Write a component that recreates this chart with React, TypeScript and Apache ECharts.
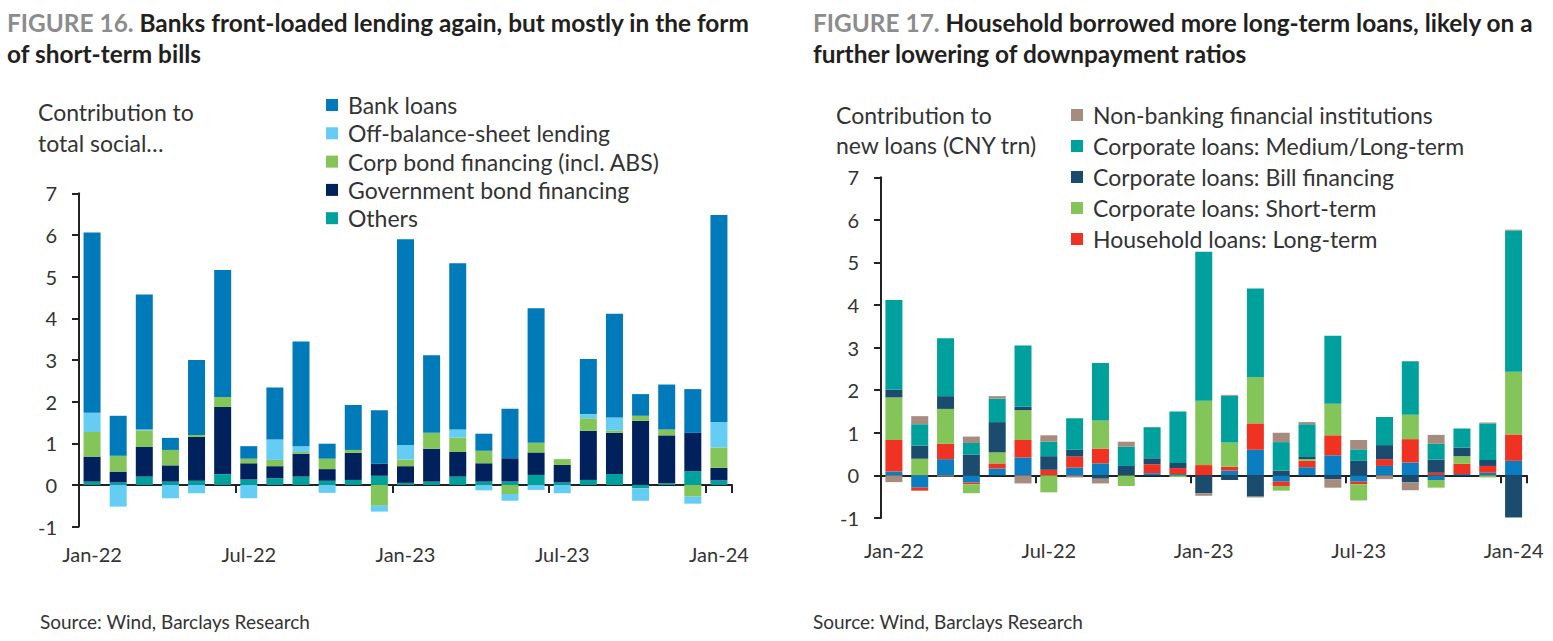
import React, { useEffect, useRef } from "react";
import * as echarts from "echarts";

const FONT = "Lato";

const months = [
  "Jan-22", "Feb-22", "Mar-22", "Apr-22", "May-22", "Jun-22", "Jul-22", "Aug-22", "Sep-22", "Oct-22", "Nov-22", "Dec-22",
  "Jan-23", "Feb-23", "Mar-23", "Apr-23", "May-23", "Jun-23", "Jul-23", "Aug-23", "Sep-23", "Oct-23", "Nov-23", "Dec-23",
  "Jan-24",
];
const yTicks = [-1, 0, 1, 2, 3, 4, 5, 6, 7];

// Figure 16 (CNY trn)
const tsfOthers = [0.08, 0.06, 0.2, 0.08, 0.1, 0.26, 0.13, 0.16, 0.2, 0.1, 0.12, 0.22, 0.05, 0.08, 0.2, 0.08, 0.08, 0.24, 0.06, 0.12, 0.26, -0.08, 0.04, 0.33, 0.11];
const tsfGov = [0.6, 0.26, 0.71, 0.39, 1.05, 1.61, 0.39, 0.29, 0.55, 0.28, 0.65, 0.29, 0.4, 0.79, 0.59, 0.44, 0.56, 0.54, 0.42, 1.18, 0.99, 1.54, 1.15, 0.92, 0.3];
const tsfCorp = [0.59, 0.38, 0.4, 0.37, 0.05, 0.24, 0.11, 0.15, 0.04, 0.25, 0.07, -0.5, 0.16, 0.38, 0.35, 0.3, -0.22, 0.23, 0.14, 0.3, 0.06, 0.12, 0.14, -0.28, 0.49];
const tsfObs = [0.46, -0.52, 0.02, -0.32, -0.2, 0, -0.32, 0.49, 0.14, -0.19, 0, -0.14, 0.35, 0, 0.19, -0.13, -0.16, -0.12, -0.2, 0.1, 0.31, -0.3, 0, -0.17, 0.61];
const tsfBank = [4.33, 0.96, 3.24, 0.29, 1.8, 3.05, 0.3, 1.25, 2.51, 0.36, 1.08, 1.28, 4.94, 1.86, 3.99, 0.41, 1.19, 3.23, 0, 1.32, 2.49, 0.52, 1.08, 1.05, 4.97];

// Figure 17 (CNY trn)
const hhShort = [0.09, -0.29, 0.38, -0.17, 0.16, 0.42, 0, 0.18, 0.28, 0, 0.05, 0.03, 0, 0.11, 0.6, -0.15, 0.19, 0.47, -0.15, 0.22, 0.3, -0.11, 0.03, 0.06, 0.34];
const hhLong = [0.74, -0.07, 0.36, -0.04, 0.12, 0.41, 0.13, 0.26, 0.35, 0, 0.21, 0.14, 0.24, 0.09, 0.62, -0.1, 0.15, 0.47, -0.06, 0.16, 0.55, 0.06, 0.24, 0.16, 0.62];
const corpShort = [1.0, 0.39, 0.82, -0.21, 0.26, 0.7, -0.4, 0, 0.66, -0.25, 0, -0.04, 1.51, 0.57, 1.09, -0.11, 0.04, 0.74, -0.38, 0, 0.57, -0.18, 0.18, -0.05, 1.47];
const corpBill = [0.18, 0.31, 0.3, 0.49, 0.71, 0.08, 0.32, 0.16, -0.08, 0.22, 0.14, 0.12, -0.42, -0.11, -0.5, 0.11, 0.05, -0.09, 0.34, 0.33, -0.16, 0.31, 0.2, 0.14, -0.99];
const corpMLT = [2.11, 0.5, 1.36, 0.27, 0.55, 1.44, 0.34, 0.74, 1.35, 0.45, 0.73, 1.21, 3.5, 1.1, 2.08, 0.67, 0.77, 1.6, 0.27, 0.66, 1.26, 0.37, 0.45, 0.86, 3.32];
const nbfi = [-0.16, 0.19, -0.03, 0.15, 0.06, -0.19, 0.15, -0.05, -0.11, 0.12, 0, 0, -0.06, 0.02, -0.02, 0.22, 0.05, -0.2, 0.22, -0.09, -0.19, 0.21, 0, 0.02, 0.02];

const leftSeries = [
  { name: "Others", data: tsfOthers, color: "#00a09d" },
  { name: "Government bond financing", data: tsfGov, color: "#00215c" },
  { name: "Corp bond financing (incl. ABS)", data: tsfCorp, color: "#84c55a" },
  { name: "Off-balance-sheet lending", data: tsfObs, color: "#65cdf4" },
  { name: "Bank loans", data: tsfBank, color: "#007ab8" },
];
const leftLegend = ["Bank loans", "Off-balance-sheet lending", "Corp bond financing (incl. ABS)", "Government bond financing", "Others"];

const rightSeries = [
  { name: "Household loans: Short-term", data: hhShort, color: "#0b7dc1" },
  { name: "Household loans: Long-term", data: hhLong, color: "#f03223" },
  { name: "Corporate loans: Short-term", data: corpShort, color: "#84c55a" },
  { name: "Corporate loans: Bill financing", data: corpBill, color: "#1b4c6d" },
  { name: "Corporate loans: Medium/Long-term", data: corpMLT, color: "#00a09d" },
  { name: "Non-banking financial institutions", data: nbfi, color: "#a58c7f" },
];
const rightLegend = [
  "Non-banking financial institutions",
  "Corporate loans: Medium/Long-term",
  "Corporate loans: Bill financing",
  "Corporate loans: Short-term",
  "Household loans: Long-term",
];

const INK = "#222";
const TXT = "#333";

function makeAxes(gi: number, labelMargin: number, yMargin: number) {
  const xA = {
    type: "category",
    gridIndex: gi,
    data: months,
    axisLine: { onZero: true, lineStyle: { color: INK, width: 2 } },
    axisTick: { show: true, interval: 5, length: 8, lineStyle: { color: INK, width: 2 } },
    axisLabel: { show: false },
    splitLine: { show: false },
  };
  const xB = {
    type: "category",
    gridIndex: gi,
    data: months,
    position: "bottom",
    axisLine: { show: false, onZero: false },
    axisTick: { show: false },
    axisLabel: { interval: 5, fontSize: 20, color: TXT, fontFamily: FONT, margin: labelMargin },
    splitLine: { show: false },
  };
  const y = {
    type: "value",
    gridIndex: gi,
    min: yTicks[0],
    max: yTicks[yTicks.length - 1],
    interval: 1,
    axisLine: { show: true, lineStyle: { color: INK, width: 2 } },
    axisTick: { show: true, length: 7, lineStyle: { color: INK, width: 2 } },
    axisLabel: { fontSize: 20, color: TXT, fontFamily: FONT, margin: yMargin },
    splitLine: { show: false },
  };
  return { xA, xB, y };
}

export default function App() {
  const ref = useRef<HTMLDivElement>(null);
  useEffect(() => {
    document.body.style.margin = "0";
    const chart = echarts.init(ref.current!, null, { renderer: "svg" });
    const L = makeAxes(0, 17, 22);
    const R = makeAxes(1, 22, 22);
    const titleRich = (fig: string, l1: string, l2: string) =>
      `{g|${fig}}{b| ${l1}}\n{b|${l2}}`;
    const rich = {
      g: { color: "#8c8c8c", fontSize: 24.4, fontWeight: "bold", fontFamily: FONT, lineHeight: 31 },
      b: { color: "#231f20", fontSize: 24.4, fontWeight: "bold", fontFamily: FONT, lineHeight: 31 },
    };
    const legendCommon = {
      orient: "vertical",
      icon: "rect",
      itemWidth: 12,
      itemHeight: 12,
      padding: 0,
      selectedMode: false,
      textStyle: { fontSize: 23, color: TXT, fontFamily: FONT, lineHeight: 23, padding: [0, 0, 0, 5] },
    };
    const option: any = {
      animation: false,
      backgroundColor: "#ffffff",
      title: [
        {
          left: 7,
          top: 6.5,
          padding: 0,
          text: titleRich("FIGURE 16.", "Banks front-loaded lending again, but mostly in the form", "of short-term bills"),
          textStyle: { rich },
        },
        {
          left: 813,
          top: 6.5,
          padding: 0,
          text: titleRich("FIGURE 17.", "Household borrowed more long-term loans, likely on a", "further lowering of downpayment ratios"),
          textStyle: { rich },
        },
      ],
      grid: [
        { left: 79, top: 193.3, width: 653, height: 333.3, containLabel: false, outerBoundsMode: "none" },
        { left: 881, top: 177.3, width: 645.5, height: 340.6, containLabel: false, outerBoundsMode: "none" },
      ],
      xAxis: [L.xA, L.xB, R.xA, R.xB],
      yAxis: [L.y, R.y],
      legend: [
        { ...legendCommon, left: 326, top: 93.5, itemGap: 5.3, data: leftLegend },
        { ...legendCommon, left: 1071, top: 103.5, itemGap: 8, data: rightLegend },
      ],
      graphic: [
        {
          type: "text",
          left: 38,
          top: 96.5,
          style: { text: "Contribution to\ntotal social…", fontSize: 23, fontFamily: FONT, fill: TXT, lineHeight: 31 },
        },
        {
          type: "text",
          left: 836,
          top: 100,
          style: { text: "Contribution to\nnew loans (CNY trn)", fontSize: 23, fontFamily: FONT, fill: TXT, lineHeight: 30 },
        },
        {
          type: "text",
          left: 40,
          top: 612,
          style: { text: "Source: Wind, Barclays Research", fontSize: 19, fontFamily: FONT, fill: TXT },
        },
        {
          type: "text",
          left: 813,
          top: 612,
          style: { text: "Source: Wind, Barclays Research", fontSize: 19, fontFamily: FONT, fill: TXT },
        },
      ],
      series: [
        ...leftSeries.map((s) => ({
          type: "bar",
          name: s.name,
          data: s.data,
          stack: "tsf",
          xAxisIndex: 0,
          yAxisIndex: 0,
          barWidth: 17,
          itemStyle: { color: s.color },
        })),
        ...rightSeries.map((s) => ({
          type: "bar",
          name: s.name,
          data: s.data,
          stack: "loans",
          xAxisIndex: 2,
          yAxisIndex: 1,
          barWidth: 17,
          itemStyle: { color: s.color },
        })),
      ],
    };
    chart.setOption(option);
    return () => chart.dispose();
  }, []);
  return <div ref={ref} style={{ width: 1553, height: 641 }} />;
}
